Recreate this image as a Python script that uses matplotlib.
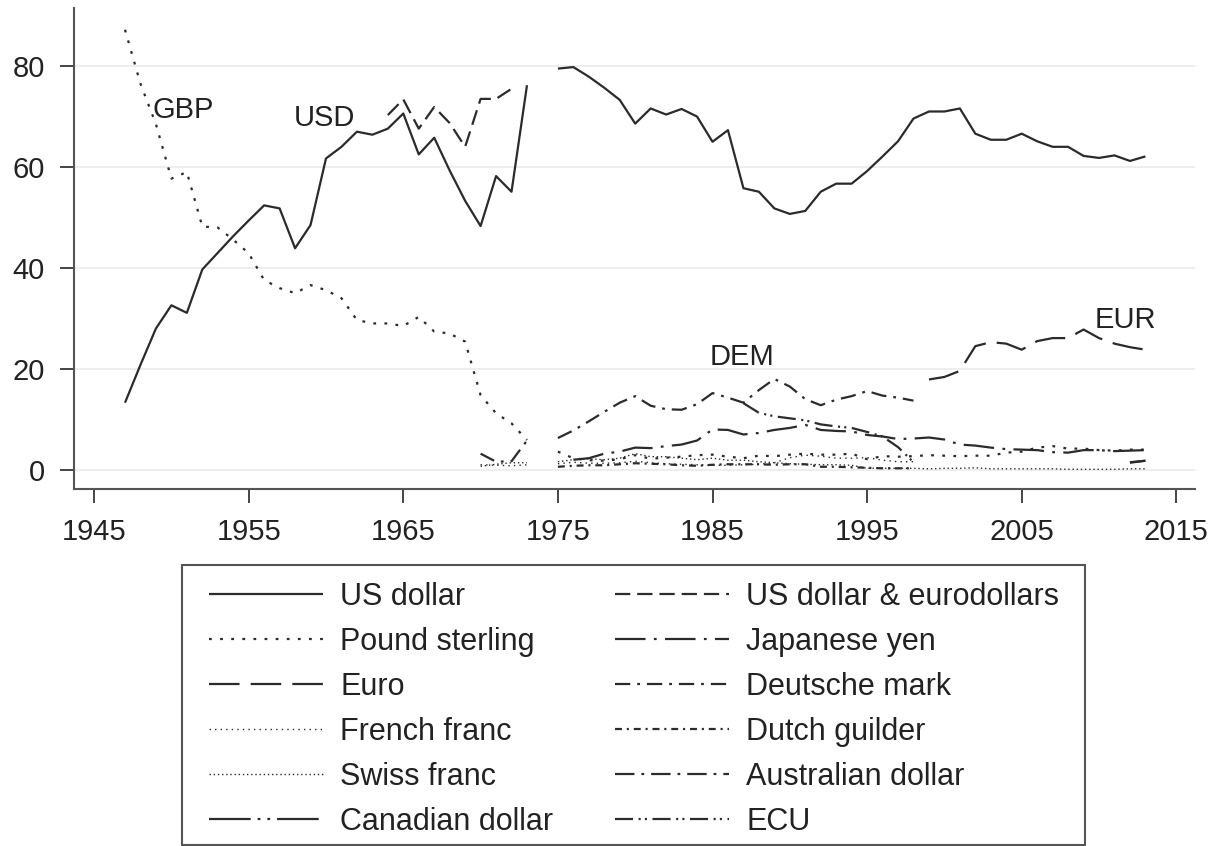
import numpy as np
import matplotlib
matplotlib.use("Agg")
import matplotlib.pyplot as plt
from matplotlib.patches import Rectangle

plt.rcParams['font.family'] = ['Liberation Sans', 'DejaVu Sans']
plt.rcParams['lines.scale_dashes'] = False

nan = np.nan

# ---------------- data ----------------
usd_years = list(range(1947, 2014))
usd = [13.3, 20.8, 28.0, 32.6, 31.1, 39.7, 43.0, 46.3, 49.4, 52.4,
       51.8, 43.9, 48.5, 61.7, 64.0, 67.0, 66.4, 67.6, 70.6, 62.5,
       65.8, 59.3, 53.3, 48.3, 58.2, 55.1, 76.2, nan,
       79.5, 79.8, 77.9, 75.7, 73.3, 68.6, 71.6, 70.4, 71.5, 70.0,
       65.0, 67.3, 55.8, 55.1, 51.8, 50.7, 51.3, 55.1, 56.7, 56.7,
       59.2, 62.1, 65.1, 69.6, 71.0, 71.0, 71.6, 66.6, 65.4, 65.4,
       66.6, 65.1, 64.0, 64.0, 62.2, 61.8, 62.3, 61.2, 62.1]

eurodollar_years = list(range(1964, 1973))
eurodollar = [70.3, 73.4, 67.6, 71.9, 68.7, 64.0, 73.5, 73.5, 75.5]

gbp_years = list(range(1947, 2014))
gbp = [87.2, 76.5, 68.5, 57.7, 59.0, 48.2, 48.0, 45.6, 42.9, 37.6,
       36.0, 35.0, 36.6, 35.6, 34.0, 29.7, 29.0, 29.0, 28.5, 30.3,
       27.4, 27.0, 25.4, 14.8, 11.2, 9.2, 5.9, nan,
       3.6, 2.3, 1.9, 1.8, 2.1, 2.9, 2.2, 2.4, 2.6, 2.9,
       3.0, 2.6, 2.3, 2.8, 2.7, 3.0, 3.2, 3.0, 3.0, 3.2,
       2.1, 2.7, 2.6, 2.7, 2.9, 2.8, 2.7, 2.8, 2.8, 3.4,
       3.6, 4.4, 4.7, 4.2, 4.2, 3.9, 3.8, 4.0, 4.0]

eur_years = list(range(1999, 2014))
eur = [17.9, 18.4, 19.6, 24.5, 25.3, 25.0, 23.8, 25.5, 26.1, 26.1,
       27.8, 26.1, 25.0, 24.3, 23.8]

jpy_years = list(range(1976, 2014))
jpy = [2.0, 2.3, 3.2, 3.6, 4.4, 4.3, 4.7, 5.0, 5.8, 8.0,
       7.9, 7.0, 7.3, 7.9, 8.3, 8.9, 7.9, 7.7, 7.6, 6.9,
       6.6, 6.1, 6.2, 6.4, 6.0, 5.0, 4.8, 4.4, 4.1, 4.0,
       3.9, 3.5, 3.4, 3.9, 3.9, 3.7, 3.8, 3.9]

dem_years = list(range(1970, 1999))
dem = [3.2, 1.6, 1.7, 5.8, nan,
       6.3, 7.8, 9.6, 11.5, 13.3, 14.6, 12.7, 12.0, 11.9, 13.0,
       15.2, 14.3, 13.3, 15.8, 18.0, 16.5, 14.0, 12.8, 13.9, 14.6,
       15.6, 14.7, 14.3, 13.7]

frf_years = list(range(1970, 1999))
frf = [1.0, 0.9, 0.8, 1.0, nan,
       1.2, 1.5, 1.3, 1.3, 1.4, 1.7, 1.4, 1.2, 1.1, 1.0,
       0.9, 0.9, 1.0, 1.1, 1.4, 2.4, 2.9, 2.7, 2.3, 2.3,
       2.4, 1.9, 1.6, 1.6]

nlg_years = list(range(1975, 1999))
nlg = [0.6, 0.8, 0.9, 0.9, 1.1, 1.3, 1.2, 1.1, 0.9, 0.8,
       1.0, 1.1, 1.1, 1.1, 1.0, 1.1, 1.1, 0.6, 0.6, 0.5,
       0.4, 0.3, 0.3, 0.3]

chf_years = list(range(1970, 2014))
chf = [0.7, 1.1, 1.4, 1.4, nan,
       1.6, 2.0, 2.2, 2.0, 2.3, 3.2, 2.6, 2.6, 2.3, 2.0,
       2.3, 1.9, 1.9, 1.6, 1.4, 1.2, 1.1, 1.0, 1.0, 0.9,
       0.3, 0.3, 0.3, 0.3, 0.2, 0.3, 0.3, 0.4, 0.2, 0.2,
       0.2, 0.2, 0.2, 0.1, 0.1, 0.1, 0.1, 0.2, 0.2]

aud_years = [2012, 2013]
aud = [1.5, 1.8]

cad_years = [2012, 2013]
cad = [1.4, 1.8]

ecu_years = list(range(1987, 1999))
ecu = [13.2, 11.3, 10.6, 10.2, 9.8, 9.0, 8.6, 8.3, 7.5, 6.6, 4.5, 1.5]

labels_text = {
    "GBP": (1948.8, 71.3),
    "USD": (1957.9, 69.7),
    "DEM": (1984.8, 22.4),
    "EUR": (2009.7, 29.7),
}

x_ticks = [1945, 1955, 1965, 1975, 1985, 1995, 2005, 2015]
y_ticks = [0, 20, 40, 60, 80]

# ---------------- figure ----------------
W, H = 1223, 846
fig = plt.figure(figsize=(W / 100, H / 100), dpi=100)
ax = fig.add_axes([0.0605, 0.422, 0.9165, 0.5685])

col = '#2b2b2b'
lw = 1.6

series = [
    ("US dollar", usd_years, usd, '-', lw),
    ("Pound sterling", gbp_years, gbp, (0, (2, 6)), lw),
    ("Euro", eur_years, eur, (0, (22, 8)), lw),
    ("French franc", frf_years, frf, (0, (1, 3)), 1.0),
    ("Swiss franc", chf_years, chf, (0, (1, 2)), 1.0),
    ("Canadian dollar", cad_years, cad, (0, (30, 5, 2, 5, 2, 5)), lw),
    ("US dollar & eurodollars", eurodollar_years, eurodollar, (0, (11, 5)), lw),
    ("Japanese yen", jpy_years, jpy, (0, (22, 6, 2, 6)), lw),
    ("Deutsche mark", dem_years, dem, (0, (11, 5, 2, 5)), lw),
    ("Dutch guilder", nlg_years, nlg, (0, (5, 3.5, 1.5, 3.5)), lw),
    ("Australian dollar", aud_years, aud, (0, (14, 5, 2, 5)), lw),
    ("ECU", ecu_years, ecu, (0, (13, 4, 1.5, 3, 1.5, 4)), lw),
]

handles = []
for name, xs, ys, ls, w in series:
    h, = ax.plot(xs, ys, color=col, linestyle=ls, linewidth=w,
                 label=name, solid_capstyle='butt', dash_capstyle='butt')
    handles.append(h)

for txt, (x, y) in labels_text.items():
    ax.text(x, y, txt, fontsize=21, color='#222222', ha='left', va='center')

ax.set_xlim(1943.7, 2016.2)
ax.set_ylim(-3.8, 91.5)
ax.set_xticks(x_ticks)
ax.set_yticks(y_ticks)
ax.set_yticklabels([str(v) for v in y_ticks])
ax.set_xticklabels([str(v) for v in x_ticks])

ax.yaxis.grid(True, color='#ebebeb', linewidth=1.2)
ax.set_axisbelow(True)
for s in ['top', 'right']:
    ax.spines[s].set_visible(False)
for s in ['left', 'bottom']:
    ax.spines[s].set_color('#555555')
    ax.spines[s].set_linewidth(1.5)
ax.tick_params(direction='out', length=10, width=1.4, pad=11,
               labelsize=21, colors='#444444', labelcolor='#222222')

# legend frame drawn separately (box 182..1085 x 565..845 px)
frame = Rectangle((182 / W, 1 - 845 / H), (1085 - 182) / W, (845 - 565) / H,
                  transform=fig.transFigure, fill=False,
                  edgecolor='#555555', linewidth=1.5)
fig.add_artist(frame)

leg = fig.legend(handles=handles, ncol=2, loc='upper left',
                 bbox_to_anchor=(209 / W, 1 - 582 / H), bbox_transform=fig.transFigure,
                 borderaxespad=0, fontsize=22, handlelength=3.73,
                 handletextpad=0.56, columnspacing=2.03, labelspacing=0.49,
                 borderpad=0, frameon=False)
for t in leg.get_texts():
    t.set_color('#222222')

fig.savefig("out.png", dpi=100)
